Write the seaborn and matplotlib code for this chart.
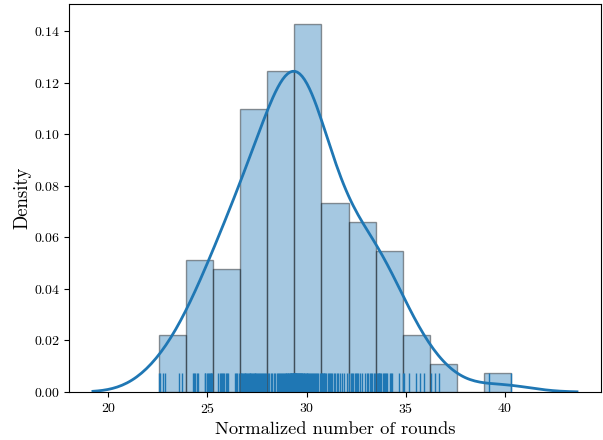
import numpy as np
import pandas as pd
import matplotlib
matplotlib.use("Agg")
import matplotlib.pyplot as plt
import seaborn as sns

plt.rcParams['font.family'] = ['cmr10', 'DejaVu Serif']
plt.rcParams['mathtext.fontset'] = 'cm'
plt.rcParams['axes.formatter.use_mathtext'] = True

# Observed normalized number of rounds (read from the rug / histogram), grouped by bin
bin01 = [22.55, 22.63, 22.74, 22.88, 23.58, 23.73]
bin02 = [24.27, 24.33, 24.40, 24.46, 24.51, 24.86, 24.90, 24.96, 25.02, 25.07, 25.12, 25.17, 25.21, 25.26]
bin03 = [25.56, 25.62, 25.68, 25.73, 25.80, 25.86, 25.93, 25.98, 26.03, 26.38, 26.45, 26.52, 26.60]
bin04 = [26.68, 26.71, 26.75, 26.80, 26.83, 26.88, 26.92, 26.97, 27.00, 27.04, 27.09, 27.13, 27.17, 27.20, 27.26,
         27.30, 27.34, 27.39, 27.42, 27.47, 27.52, 27.56, 27.60, 27.65, 27.70, 27.74, 27.80, 27.86, 27.92, 27.98]
bin05 = [28.05, 28.12, 28.20, 28.28, 28.35, 28.42, 28.50, 28.56, 28.62, 28.68, 28.73, 28.78, 28.83, 28.87, 28.91,
         28.95, 28.99, 29.03, 29.06, 29.09, 29.12, 29.15, 29.18, 29.20, 29.22, 29.24, 29.26, 29.28, 29.30, 29.32,
         29.33, 29.35, 29.36, 29.37]
bin06 = [29.39, 29.40, 29.42, 29.43, 29.45, 29.47, 29.49, 29.51, 29.53, 29.55, 29.57, 29.60, 29.62, 29.65, 29.67,
         29.70, 29.73, 29.76, 29.79, 29.82, 29.85, 29.89, 29.93, 29.97, 30.01, 30.05, 30.10, 30.15, 30.20, 30.25,
         30.30, 30.35, 30.40, 30.45, 30.50, 30.55, 30.60, 30.66, 30.72]
bin07 = [30.77, 30.80, 30.83, 30.86, 30.90, 30.94, 30.99, 31.06, 31.12, 31.18, 31.24, 31.30, 31.37, 31.44, 31.52,
         31.60, 31.68, 31.78, 31.90, 32.05]
bin08 = [32.16, 32.22, 32.28, 32.35, 32.42, 32.48, 32.55, 32.62, 32.70, 32.78, 32.97, 33.04, 33.11, 33.18, 33.25,
         33.32, 33.39, 33.46]
bin09 = [33.53, 33.58, 33.63, 33.68, 33.73, 33.78, 33.84, 33.90, 33.95, 34.01, 34.07, 34.19, 34.25, 34.32, 34.66]
bin10 = [34.88, 34.93, 35.16, 35.50, 35.70, 35.90]
bin11 = [36.27, 36.50, 36.70]
bin13 = [39.22, 40.32]

rounds = np.array(bin01 + bin02 + bin03 + bin04 + bin05 + bin06 + bin07 + bin08 + bin09 + bin10 + bin11 + bin13)
df = pd.DataFrame({"rounds": rounds})

fig = plt.figure(figsize=(6.03, 4.40), dpi=100)
ax = fig.add_axes([0.114, 0.109, 0.883, 0.882])

blue = "#1f77b4"
sns.histplot(data=df, x="rounds", bins=13, stat="density", color=blue, alpha=0.4,
             edgecolor=(0, 0, 0, 0.4), linewidth=1, ax=ax)
sns.kdeplot(data=df, x="rounds", color=blue, linewidth=2, bw_adjust=1.25, cut=2.4, ax=ax)
sns.rugplot(data=df, x="rounds", color=blue, height=0.05, linewidth=1, ax=ax)

ax.margins(x=0.05)
ax.set_ylim(0, 0.1505)
ax.set_xticks([20, 25, 30, 35, 40])
ax.set_xlabel("Normalized number of rounds", fontsize=13.3)
ax.set_ylabel("Density", fontsize=13.5, labelpad=2)
ax.tick_params(labelsize=10)
ax.tick_params(axis="y", pad=2.5)

fig.savefig("out.png", dpi=100)
